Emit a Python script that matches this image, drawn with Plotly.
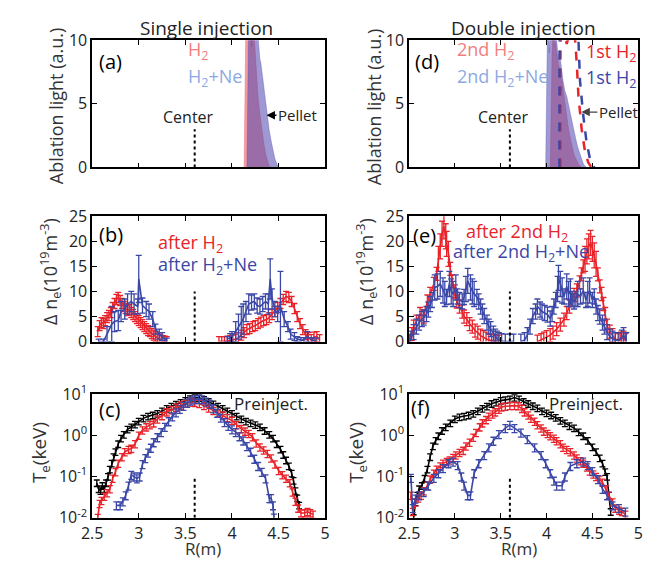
import plotly.graph_objects as go

# ---------------- data ----------------
# (a) ablation light, single injection
R_a_h2 = [4.12, 4.13, 4.135, 4.14, 4.15, 4.16, 4.17, 4.18, 4.19, 4.20, 4.21, 4.22, 4.23, 4.24, 4.25, 4.26, 4.28, 4.30, 4.32, 4.34, 4.36, 4.38, 4.40, 4.42]
L_a_h2 = [0, 0, 3, 9, 12, 14, 13, 12, 14, 15, 13, 12, 11, 10.2, 9.0, 7.8, 5.5, 4.2, 3.0, 2.0, 1.1, 0.5, 0.1, 0]
R_a_ne = [4.16, 4.165, 4.17, 4.18, 4.19, 4.20, 4.21, 4.22, 4.23, 4.24, 4.25, 4.26, 4.27, 4.28, 4.29, 4.30, 4.31, 4.32, 4.33, 4.34, 4.35, 4.36, 4.37, 4.38, 4.39, 4.40, 4.42, 4.44, 4.46, 4.48, 4.50]
L_a_ne = [0, 5, 9, 12, 11, 13, 9.5, 12, 10.5, 13, 11, 10.5, 10, 10.2, 9.2, 8.5, 8.2, 7.6, 6.8, 6.4, 5.9, 5.2, 4.5, 3.9, 3.4, 2.9, 2.1, 1.3, 0.7, 0.3, 0]

# (d) ablation light, double injection
R_d_h2 = [4.04, 4.05, 4.06, 4.07, 4.08, 4.09, 4.10, 4.11, 4.12, 4.13, 4.14, 4.15, 4.16, 4.17, 4.18, 4.20, 4.21, 4.24, 4.26, 4.28, 4.30, 4.32, 4.35, 4.38]
L_d_h2 = [0, 5, 9, 10.5, 9.5, 10, 9.8, 9, 8.6, 8, 7.6, 7.2, 7.0, 6.8, 6.2, 5.4, 4.8, 3.0, 2.3, 1.5, 1.0, 0.7, 0.25, 0]
R_d_ne = [3.99, 4.00, 4.01, 4.02, 4.03, 4.04, 4.05, 4.06, 4.07, 4.08, 4.09, 4.10, 4.11, 4.12, 4.13, 4.14, 4.15, 4.16, 4.17, 4.18, 4.19, 4.20, 4.22, 4.24, 4.26, 4.28, 4.30, 4.32, 4.34, 4.36, 4.38, 4.40, 4.42, 4.44]
L_d_ne = [0, 6, 11, 12, 9, 11, 12, 10, 11, 12, 10.5, 11, 10, 9, 8.5, 8.5, 8.5, 8, 7.2, 6.8, 6.4, 6.0, 5.6, 4.9, 4.2, 3.4, 2.8, 2.2, 1.6, 1.1, 0.6, 0.3, 0.1, 0]
R_d_1st_red = [4.15, 4.152, 4.17, 4.20, 4.22, 4.25, 4.30, 4.312, 4.33, 4.348, 4.383, 4.418, 4.454, 4.489, 4.50]
L_d_1st_red = [0, 9.8, 10.5, 10.5, 9.7, 10.5, 10.5, 10, 8.1, 5.6, 3.0, 1.3, 0.4, 0, 0]
R_d_1st_blue = [4.14, 4.142, 4.25, 4.34, 4.348, 4.365, 4.40, 4.436, 4.47, 4.507, 4.52]
L_d_1st_blue = [0, 12, 12, 12, 10, 6.8, 4.1, 2.0, 0.8, 0.1, 0]

# (b) density increase, single injection
R_b_red = [2.56, 2.58, 2.60, 2.62, 2.64, 2.66, 2.68, 2.70, 2.72, 2.74, 2.76, 2.78, 2.80, 2.82, 2.84, 2.86, 2.88, 2.90, 2.92, 2.94, 2.96, 2.98, 3.00, 3.02, 3.04, 3.06, 3.08, 3.10, 3.12, 3.14, 3.16, 3.18, 3.20, 3.22, 3.24, 3.26, 3.28, 3.30,
           None,
           3.86, 3.89, 3.92, 3.95, 3.98, 4.01, 4.04, 4.07, 4.10, 4.13, 4.16, 4.19, 4.22, 4.25, 4.28, 4.31, 4.34, 4.37, 4.40, 4.43, 4.46, 4.49, 4.52, 4.55, 4.58, 4.61, 4.64, 4.67, 4.70, 4.73, 4.76, 4.79, 4.82, 4.85, 4.88, 4.91, 4.94]
N_b_red = [2.0, 3.2, 3.8, 3.6, 4.2, 4.8, 5.2, 5.8, 6.8, 7.6, 8.4, 8.8, 8.2, 7.6, 7.0, 6.6, 6.2, 6.4, 5.8, 5.4, 5.0, 4.6, 4.2, 3.8, 3.4, 3.0, 2.6, 2.2, 2.0, 1.6, 1.3, 1.0, 0.7, 0.5, 0.3, 0.2, 0.1, 0.0,
           None,
           0, 0, 0, 0.1, 0.2, 0.3, 0.5, 0.8, 1.3, 1.8, 2.4, 2.6, 3.0, 3.2, 3.6, 3.9, 4.2, 4.4, 4.8, 5.4, 6.0, 6.8, 7.6, 8.4, 9.0, 8.8, 8.0, 6.6, 5.0, 3.6, 2.4, 1.4, 0.8, 0.4, 0.9, 1.0, 0.4]
R_b_blue = [2.57, 2.62, 2.66, 2.71, 2.74, 2.78, 2.81, 2.85, 2.88, 2.92, 2.95, 2.99, 3.00, 3.04, 3.08, 3.11, 3.15, 3.18, 3.22, 3.25, 3.30,
            None,
            3.95, 3.98, 4.00, 4.04, 4.07, 4.10, 4.12, 4.15, 4.18, 4.21, 4.24, 4.27, 4.30, 4.33, 4.36, 4.39, 4.41, 4.43, 4.46, 4.49, 4.52, 4.56, 4.60, 4.63, 4.67, 4.70, 4.74, 4.77, 4.81, 4.86, 4.90]
N_b_blue = [0, 0, 1.5, 3.5, 4.0, 4.2, 6.0, 6.5, 7.5, 8.0, 7.5, 7.0, 12.5, 7.2, 6.5, 6.0, 4.5, 2.5, 1.5, 1.0, 0.2,
            None,
            0.5, 0.8, 1.0, 2.0, 3.0, 4.0, 4.5, 6.0, 7.5, 7.8, 8.0, 7.2, 7.0, 7.5, 8.0, 7.5, 12.5, 8.5, 6.5, 5.5, 7.0, 4.5, 3.0, 1.5, 1.0, 0.5, 0.3, 0.3, 1.0, 0.3, 0.2]
E_b_blue = [0.5, 0.5, 1.5, 3.5, 2.0, 2.0, 2.0, 2.0, 2.0, 2.0, 2.0, 1.5, 4.7, 1.5, 1.5, 1.5, 1.5, 1.0, 1.0, 0.8, 0.5,
            None,
            0.5, 0.8, 1.0, 2.0, 2.5, 3.0, 3.0, 2.0, 2.0, 1.5, 1.5, 1.5, 1.5, 1.5, 1.5, 2.0, 4.0, 2.0, 1.5, 1.5, 7.0, 1.5, 1.0, 1.0, 0.8, 0.5, 0.5, 0.5, 1.0, 0.5, 0.5]

# (e) density increase, double injection
R_e_red = [2.50, 2.53, 2.55, 2.58, 2.62, 2.66, 2.70, 2.73, 2.77, 2.80, 2.82, 2.84, 2.86, 2.88, 2.90, 2.91, 2.93, 2.95, 2.97, 3.00, 3.02, 3.05, 3.08, 3.10, 3.13, 3.16, 3.19, 3.22, 3.25, 3.28, 3.31, 3.34, 3.37, 3.40, 3.44, 3.48,
           None,
           3.90, 3.94, 3.97, 4.00, 4.04, 4.07, 4.11, 4.15, 4.19, 4.22, 4.25, 4.27, 4.30, 4.33, 4.36, 4.38, 4.40, 4.42, 4.44, 4.46, 4.48, 4.50, 4.52, 4.54, 4.56, 4.58, 4.60, 4.62, 4.64, 4.66, 4.69, 4.72, 4.75, 4.78, 4.81, 4.84, 4.86]
N_e_red = [0, 1.5, 3.0, 4.0, 5.5, 5.0, 8.0, 9.5, 11.5, 13.5, 16.5, 19.0, 21.5, 23.0, 21.0, 19.5, 17.5, 14.5, 12.0, 10.0, 8.0, 7.0, 6.0, 5.0, 4.5, 3.5, 3.0, 2.2, 1.8, 1.2, 0.9, 0.6, 0.3, 0.2, 0.1, 0,
           None,
           0, 0.3, 0.6, 0.9, 1.3, 1.8, 2.5, 3.4, 4.4, 5.7, 7.0, 8.3, 9.3, 10.2, 11.8, 13.4, 15.0, 16.5, 18.0, 19.0, 19.7, 18.5, 17.2, 15.5, 13.4, 11.0, 9.5, 7.5, 5.5, 3.2, 2.0, 1.3, 0.5, 0.3, 0.6, 0.8, 0.3]
R_e_blue = [2.50, 2.52, 2.55, 2.58, 2.61, 2.64, 2.66, 2.69, 2.71, 2.73, 2.75, 2.78, 2.81, 2.84, 2.87, 2.89, 2.91, 2.94, 2.96, 2.98, 3.01, 3.03, 3.05, 3.08, 3.10, 3.12, 3.14, 3.17, 3.19, 3.21, 3.24, 3.26, 3.28, 3.30, 3.32, 3.35, 3.37, 3.39, 3.42, 3.44, 3.46, 3.48, 3.51, 3.55, 3.60, 3.64,
            None,
            3.72, 3.76, 3.79, 3.82, 3.85, 3.88, 3.90, 3.93, 3.95, 3.98, 4.01, 4.04, 4.06, 4.08, 4.10, 4.12, 4.13, 4.15, 4.17, 4.19, 4.22, 4.24, 4.26, 4.28, 4.30, 4.32, 4.34, 4.37, 4.40, 4.43, 4.45, 4.47, 4.50, 4.52, 4.54, 4.56, 4.58, 4.61, 4.63, 4.66, 4.69, 4.72, 4.75, 4.79, 4.82, 4.84, 4.87]
N_e_blue = [0, 0.6, 1.9, 3.0, 3.8, 4.5, 4.8, 5.5, 6.4, 7.5, 8.3, 10.8, 11.0, 11.5, 10.2, 9.5, 8.9, 11.5, 10.0, 9.5, 10.8, 9.0, 8.3, 8.0, 8.9, 10.5, 12.1, 10.8, 10.0, 9.5, 8.9, 8.0, 7.0, 6.0, 5.1, 3.8, 3.0, 2.5, 1.6, 1.0, 0.6, 0.3, 0.1, 0, 0, 0,
            None,
            0, 0.3, 1.3, 3.0, 5.1, 6.0, 7.0, 6.4, 6.0, 5.7, 5.4, 4.6, 5.5, 7.0, 8.3, 10.5, 12.7, 11.5, 10.2, 9.0, 11.0, 9.5, 10.0, 8.5, 8.0, 8.5, 9.5, 9.0, 10.2, 8.3, 9.5, 10.2, 8.3, 9.0, 7.0, 5.7, 5.0, 3.8, 3.0, 1.9, 1.0, 0.6, 0.3, 0.3, 0.8, 1.3, 0.3]

# (c) Te, single injection
R_c_pre = [2.55, 2.57, 2.59, 2.61, 2.63, 2.65, 2.67, 2.69, 2.71, 2.73, 2.75, 2.78, 2.81, 2.84, 2.88, 2.92, 2.96, 3.00, 3.05, 3.10, 3.15, 3.20, 3.25, 3.30, 3.35, 3.40, 3.45, 3.50, 3.55, 3.60, 3.65, 3.70, 3.75, 3.80, 3.85, 3.90, 3.95, 4.00, 4.05, 4.10, 4.15, 4.20, 4.25, 4.30, 4.35, 4.40, 4.44, 4.48, 4.52, 4.55, 4.58, 4.61, 4.64, 4.66, 4.68, 4.70, 4.72]
T_c_pre = [0.07, 0.05, 0.045, 0.06, 0.05, 0.07, 0.10, 0.15, 0.21, 0.30, 0.40, 0.62, 0.85, 1.05, 1.4, 1.6, 1.85, 2.2, 2.6, 2.9, 3.1, 3.4, 3.9, 4.5, 5.1, 5.7, 6.3, 7.0, 7.7, 8.3, 8.2, 7.4, 6.6, 5.8, 5.1, 4.5, 3.9, 3.4, 2.9, 2.5, 2.2, 2.0, 1.8, 1.6, 1.3, 1.05, 0.85, 0.62, 0.46, 0.34, 0.25, 0.18, 0.12, 0.08, 0.045, 0.03, 0.02]
R_c_h2 = [2.56, 2.58, 2.60, 2.63, 2.66, 2.69, 2.72, 2.75, 2.78, 2.82, 2.85, 2.89, 2.92, 2.96, 3.00, 3.04, 3.08, 3.12, 3.16, 3.20, 3.25, 3.30, 3.35, 3.40, 3.45, 3.50, 3.55, 3.60, 3.65, 3.70, 3.75, 3.80, 3.85, 3.90, 3.95, 4.00, 4.05, 4.10, 4.14, 4.18, 4.22, 4.26, 4.30, 4.34, 4.38, 4.42, 4.46, 4.50, 4.54, 4.58, 4.62, 4.65, 4.68, 4.71, 4.74, 4.78, 4.81, 4.84, 4.87]
T_c_h2 = [0.01, 0.022, 0.026, 0.033, 0.04, 0.05, 0.09, 0.13, 0.21, 0.30, 0.40, 0.45, 0.48, 0.62, 1.0, 1.35, 1.6, 1.8, 2.0, 2.5, 3.0, 3.7, 4.2, 4.8, 5.4, 6.0, 6.4, 6.3, 5.9, 5.3, 4.6, 4.0, 3.5, 3.1, 2.7, 2.3, 1.8, 1.45, 1.26, 1.1, 0.92, 0.65, 0.52, 0.44, 0.36, 0.28, 0.20, 0.14, 0.11, 0.09, 0.07, 0.042, 0.025, 0.017, 0.013, 0.013, 0.014, 0.013, 0.012]
R_c_ne = [2.76, 2.80, 2.83, 2.86, 2.89, 2.92, 2.95, 2.98, 3.01, 3.04, 3.07, 3.10, 3.13, 3.16, 3.20, 3.24, 3.28, 3.32, 3.36, 3.40, 3.44, 3.48, 3.52, 3.56, 3.60, 3.64, 3.68, 3.72, 3.76, 3.80, 3.84, 3.88, 3.92, 3.96, 4.00, 4.04, 4.08, 4.12, 4.16, 4.20, 4.24, 4.28, 4.32, 4.36, 4.40, 4.42, 4.44, 4.45]
T_c_ne = [0.02, 0.02, 0.025, 0.035, 0.06, 0.11, 0.10, 0.09, 0.10, 0.20, 0.28, 0.38, 0.50, 0.68, 0.9, 1.2, 1.6, 2.2, 2.9, 3.6, 4.4, 5.2, 6.2, 7.0, 7.5, 7.7, 7.5, 6.6, 5.8, 4.5, 3.5, 2.7, 2.1, 1.7, 1.4, 1.2, 0.95, 0.75, 0.55, 0.40, 0.27, 0.18, 0.13, 0.09, 0.03, 0.03, 0.02, 0.01]

# (f) Te, double injection
R_f_pre = [2.55, 2.57, 2.59, 2.61, 2.64, 2.67, 2.70, 2.73, 2.76, 2.79, 2.82, 2.86, 2.90, 2.95, 3.00, 3.05, 3.10, 3.15, 3.20, 3.25, 3.30, 3.35, 3.40, 3.45, 3.50, 3.55, 3.60, 3.65, 3.70, 3.75, 3.80, 3.85, 3.90, 3.95, 4.00, 4.05, 4.10, 4.15, 4.20, 4.25, 4.30, 4.35, 4.40, 4.45, 4.50, 4.54, 4.58, 4.61, 4.64, 4.66, 4.68, 4.70]
T_f_pre = [0.01, 0.024, 0.035, 0.05, 0.06, 0.09, 0.15, 0.30, 0.55, 0.75, 0.97, 1.3, 1.6, 2.0, 2.5, 2.8, 2.9, 3.1, 3.4, 3.9, 4.5, 5.1, 5.9, 6.4, 7.0, 7.3, 7.6, 8.3, 7.6, 6.6, 5.9, 5.2, 4.6, 3.9, 3.5, 3.1, 2.7, 2.3, 2.0, 1.7, 1.5, 1.2, 0.97, 0.75, 0.52, 0.40, 0.28, 0.21, 0.13, 0.10, 0.035, 0.014]
R_f_h2 = [2.52, 2.54, 2.57, 2.60, 2.63, 2.66, 2.70, 2.73, 2.77, 2.80, 2.84, 2.87, 2.91, 2.94, 2.98, 3.01, 3.05, 3.09, 3.12, 3.16, 3.20, 3.23, 3.27, 3.30, 3.34, 3.37, 3.41, 3.44, 3.48, 3.51, 3.55, 3.60, 3.65, 3.69, 3.73, 3.76, 3.80, 3.83, 3.87, 3.90, 3.94, 3.97, 4.01, 4.04, 4.08, 4.11, 4.15, 4.18, 4.22, 4.26, 4.30, 4.33, 4.37, 4.40, 4.44, 4.47, 4.51, 4.54, 4.58, 4.61, 4.65, 4.68, 4.72, 4.75, 4.79, 4.82, 4.86]
T_f_h2 = [0.035, 0.014, 0.024, 0.03, 0.035, 0.045, 0.06, 0.086, 0.12, 0.15, 0.18, 0.21, 0.23, 0.25, 0.29, 0.33, 0.38, 0.43, 0.55, 0.68, 0.9, 1.17, 1.6, 2.0, 2.4, 2.9, 3.3, 3.7, 4.3, 4.9, 5.1, 5.3, 5.3, 5.2, 4.5, 3.7, 3.1, 2.6, 2.2, 1.8, 1.5, 1.26, 1.1, 0.97, 0.85, 0.74, 0.62, 0.51, 0.45, 0.40, 0.33, 0.28, 0.24, 0.21, 0.17, 0.135, 0.115, 0.10, 0.085, 0.072, 0.05, 0.035, 0.024, 0.017, 0.015, 0.014, 0.012]
R_f_ne = [2.52, 2.54, 2.57, 2.61, 2.66, 2.71, 2.77, 2.82, 2.87, 2.93, 2.98, 3.03, 3.07, 3.10, 3.14, 3.17, 3.21, 3.26, 3.32, 3.37, 3.42, 3.48, 3.55, 3.60, 3.65, 3.72, 3.79, 3.87, 3.94, 3.99, 4.04, 4.08, 4.11, 4.17, 4.20, 4.26, 4.33, 4.40, 4.45, 4.50, 4.56, 4.61, 4.66, 4.72, 4.79, 4.86]
T_f_ne = [0.093, 0.017, 0.029, 0.035, 0.042, 0.06, 0.093, 0.12, 0.16, 0.21, 0.23, 0.19, 0.10, 0.06, 0.035, 0.035, 0.12, 0.21, 0.33, 0.51, 0.74, 1.07, 1.5, 1.8, 1.5, 1.17, 0.81, 0.51, 0.33, 0.21, 0.12, 0.079, 0.06, 0.06, 0.10, 0.18, 0.21, 0.23, 0.19, 0.135, 0.086, 0.05, 0.035, 0.02, 0.017, 0.014]

CENTER_R = 3.6
R_TICKS = [2.5, 3, 3.5, 4, 4.5, 5]
R_TICK_TEXT = ["2.5", "3", "3.5", "4", "4.5", "5"]
TE_TICKS = [0.01, 0.1, 1, 10]
TE_TICK_TEXT = ["10<sup>-2</sup>", "10<sup>-1</sup>", "10<sup>0</sup>", "10<sup>1</sup>"]

# ---------------- style / layout ----------------
# The page keeps the browser's default 8 px body margin; the figure is sized so the
# whole page is exactly 660 x 575, and positions below are given in page pixels.
PAGE_W, PAGE_H, OFF = 660, 575, 8
W, H = PAGE_W - 2 * OFF, PAGE_H - 2 * OFF
FONT = "Open Sans"
RED = "#e8232a"
BLUE = "#3b47a6"
RED_FILL = "rgba(232,60,70,0.50)"
BLUE_FILL = "rgba(80,70,175,0.55)"
LRED = "#f08080"
LBLUE = "#8ea9e2"

COLX = [(83, 322), (408, 643)]
ROWY = [(28, 161), (212, 343), (398, 527)]

def px(x):
    return (x - OFF) / W

def py(y):
    return 1 - (y - OFF) / H

fig = go.Figure()

axis_common = dict(showline=True, linecolor="black", linewidth=1.5, mirror="ticks",
                   ticks="inside", ticklen=5, tickwidth=1.2, tickcolor="black",
                   showgrid=False, zeroline=False,
                   tickfont=dict(family=FONT, size=16, color="#222"))

panels = {(0, 0): 1, (0, 1): 2, (1, 0): 3, (1, 1): 4, (2, 0): 5, (2, 1): 6}
layout_axes = {}
for (r, c), n in panels.items():
    xname = "xaxis" if n == 1 else f"xaxis{n}"
    yname = "yaxis" if n == 1 else f"yaxis{n}"
    xa = dict(axis_common, domain=[px(COLX[c][0]), px(COLX[c][1])], range=[2.5, 5],
              tickvals=R_TICKS, ticktext=R_TICK_TEXT,
              anchor=f"y{'' if n == 1 else n}", showticklabels=(r == 2))
    ydom = [py(ROWY[r][1]), py(ROWY[r][0])]
    if r == 0:
        ya = dict(axis_common, domain=ydom, range=[0, 10], tickvals=[0, 5, 10])
    elif r == 1:
        ya = dict(axis_common, domain=ydom, range=[0, 25], tickvals=[0, 5, 10, 15, 20, 25])
    else:
        ya = dict(axis_common, domain=ydom, type="log", range=[-2, 1],
                  tickvals=TE_TICKS, ticktext=TE_TICK_TEXT)
    ya["anchor"] = f"x{'' if n == 1 else n}"
    layout_axes[xname] = xa
    layout_axes[yname] = ya

def ax(n):
    return ("x" if n == 1 else f"x{n}", "y" if n == 1 else f"y{n}")

def fill_trace(n, x, y, fc):
    xa, ya = ax(n)
    fig.add_trace(go.Scatter(x=x, y=y, fill="tozeroy", mode="lines", line=dict(width=0.6, color=fc),
                             fillcolor=fc, xaxis=xa, yaxis=ya, showlegend=False))

def err_trace(n, x, y, color, err=None, pct=None):
    xa, ya = ax(n)
    if err is not None:
        ey = dict(type="data", array=err, color=color, thickness=1.3, width=3)
    else:
        ey = dict(type="percent", value=pct, color=color, thickness=1.3, width=3)
    fig.add_trace(go.Scatter(x=x, y=y, mode="lines", line=dict(color=color, width=1.6),
                             error_y=ey, xaxis=xa, yaxis=ya, showlegend=False, connectgaps=False))

def center_line(n, y0, y1):
    xa, ya = ax(n)
    fig.add_trace(go.Scatter(x=[CENTER_R, CENTER_R], y=[y0, y1], mode="lines",
                             line=dict(color="black", width=2, dash="dot"),
                             xaxis=xa, yaxis=ya, showlegend=False))

# (a)
fill_trace(1, R_a_h2, L_a_h2, RED_FILL)
fill_trace(1, R_a_ne, L_a_ne, BLUE_FILL)
center_line(1, 0, 3)
# (d)
fill_trace(2, R_d_h2, L_d_h2, RED_FILL)
fill_trace(2, R_d_ne, L_d_ne, BLUE_FILL)
xa, ya = ax(2)
fig.add_trace(go.Scatter(x=R_d_1st_red, y=L_d_1st_red, mode="lines", line=dict(color=RED, width=2.5, dash="dash"),
                         xaxis=xa, yaxis=ya, showlegend=False))
fig.add_trace(go.Scatter(x=R_d_1st_blue, y=L_d_1st_blue, mode="lines", line=dict(color=BLUE, width=2.5, dash="dash"),
                         xaxis=xa, yaxis=ya, showlegend=False))
center_line(2, 0, 3)

# (b)
E_b_red = [None if v is None else 1.0 for v in N_b_red]
err_trace(3, R_b_red, N_b_red, RED, err=E_b_red)
err_trace(3, R_b_blue, N_b_blue, BLUE, err=E_b_blue)
center_line(3, 0, 10)
# (e)
E_e_red = [None if v is None else (2.5 if v > 15 else 1.3) for v in N_e_red]
E_e_blue = [None if v is None else (2.5 if v > 9 else 1.5) for v in N_e_blue]
err_trace(4, R_e_red, N_e_red, RED, err=E_e_red)
err_trace(4, R_e_blue, N_e_blue, BLUE, err=E_e_blue)
center_line(4, 0, 10)

# (c)
err_trace(5, R_c_pre, T_c_pre, "black", pct=18)
err_trace(5, R_c_h2, T_c_h2, RED, pct=20)
err_trace(5, R_c_ne, T_c_ne, BLUE, pct=22)
center_line(5, 0.01, 0.1)
# (f)
err_trace(6, R_f_pre, T_f_pre, "black", pct=18)
err_trace(6, R_f_h2, T_f_h2, RED, pct=20)
err_trace(6, R_f_ne, T_f_ne, BLUE, pct=22)
center_line(6, 0.01, 0.1)

# ---------------- annotations ----------------
ann = []
def txt(x, y, s, size=17, color="black", xanchor="left", angle=0):
    ann.append(dict(x=px(x), y=py(y), xref="paper", yref="paper", text=s, showarrow=False,
                    xanchor=xanchor, yanchor="middle", textangle=angle,
                    font=dict(family=FONT, size=size, color=color)))

txt(200, 15, "Single injection", 19, "#222", "center")
txt(525, 15, "Double injection", 19, "#222", "center")

txt(46, 97, "Ablation light (a.u.)", 18, "#333", "center", -90)
txt(372, 97, "Ablation light (a.u.)", 18, "#333", "center", -90)
txt(40, 270, "Δ n<sub>e</sub>(10<sup>19</sup>m<sup>-3</sup>)", 18, "#333", "center", -90)
txt(364, 270, "Δ n<sub>e</sub>(10<sup>19</sup>m<sup>-3</sup>)", 18, "#333", "center", -90)
txt(29, 459, "T<sub>e</sub>(keV)", 19, "#333", "center", -90)
txt(354, 459, "T<sub>e</sub>(keV)", 19, "#333", "center", -90)
txt(197, 559, "R(m)", 17, "#333", "center")
txt(521, 559, "R(m)", 17, "#333", "center")

txt(88, 50, "(a)", 20)
txt(412, 50, "(d)", 20)
txt(88, 231, "(b)", 20)
txt(410, 232, "(e)", 20)
txt(88, 414, "(c)", 20)
txt(408, 412, "(f)", 20)

txt(179, 39, "H<sub>2</sub>", 18, LRED)
txt(179, 67, "H<sub>2</sub>+Ne", 18, LBLUE)
txt(455, 39, "2nd H<sub>2</sub>", 18, LRED)
txt(455, 67, "2nd H<sub>2</sub>+Ne", 18, LBLUE)
txt(587, 41, "1st H<sub>2</sub>", 18, RED)
txt(587, 68, "1st H<sub>2</sub>", 18, BLUE)

txt(182, 108, "Center", 16, "#222", "center")
txt(505, 108, "Center", 16, "#222", "center")

txt(149, 240, "after H<sub>2</sub>", 18, RED)
txt(149, 263, "after H<sub>2</sub>+Ne", 18, BLUE)
txt(464, 229, "after 2nd H<sub>2</sub>", 18, RED)
txt(451, 250, "after 2nd H<sub>2</sub>+Ne", 18, BLUE)

txt(226, 408, "Preinject.", 17, "#222")
txt(549, 408, "Preinject.", 17, "#222")

ann.append(dict(x=4.37, y=4.1, xref="x", yref="y", text="Pellet", showarrow=True, ax=31, ay=0,
                arrowhead=2, arrowsize=1.3, arrowwidth=1.3, arrowcolor="black", standoff=0,
                font=dict(family=FONT, size=15, color="#222")))
ann.append(dict(x=4.38, y=4.35, xref="x2", yref="y2", text="Pellet", showarrow=True, ax=37, ay=0,
                arrowhead=2, arrowsize=1.3, arrowwidth=1.3, arrowcolor="#444", standoff=0,
                font=dict(family=FONT, size=15, color="#222")))

fig.update_layout(width=W, height=H, margin=dict(l=0, r=0, t=0, b=0),
                  plot_bgcolor="white", paper_bgcolor="white", showlegend=False,
                  annotations=ann, **layout_axes)

fig.write_html("out.html", config={"displayModeBar": False})
